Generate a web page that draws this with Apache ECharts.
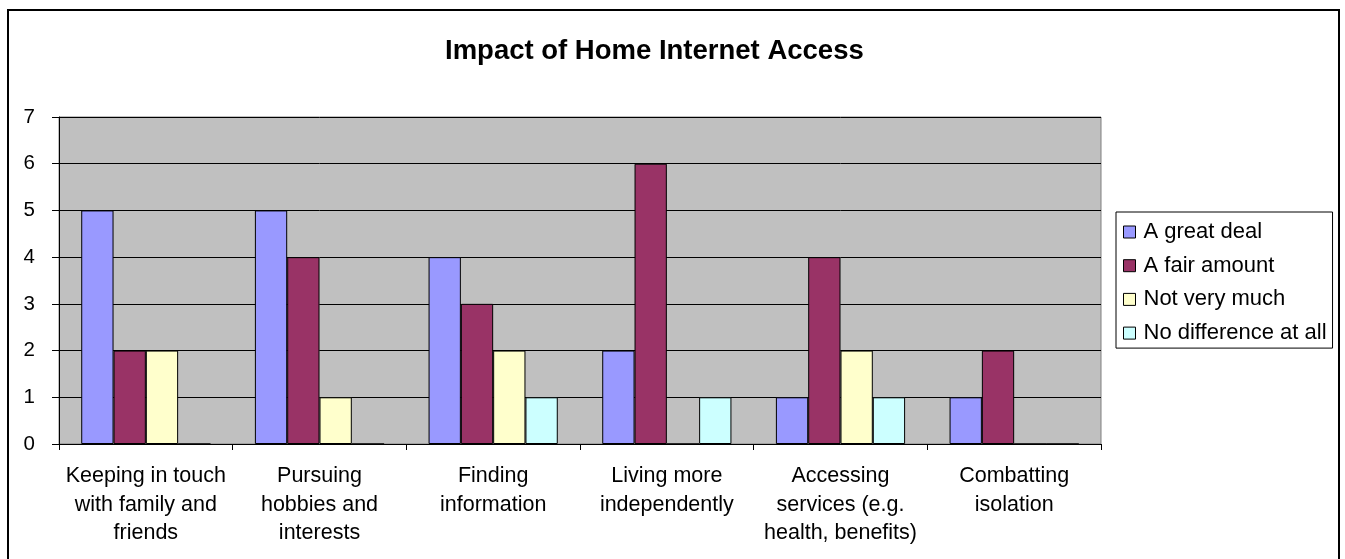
<!DOCTYPE html>
<html>
<head>
<meta charset="utf-8">
<script src="https://cdn.jsdelivr.net/npm/echarts@6/dist/echarts.min.js"></script>
<style>
html,body{margin:0;padding:0;background:#fff;}
#chart{width:1345px;height:559px;}
</style>
</head>
<body>
<div id="chart"></div>
<script>
const titleText = 'Impact of Home Internet Access';
const categories = [
  'Keeping in touch\nwith family and\nfriends',
  'Pursuing\nhobbies and\ninterests',
  'Finding\ninformation',
  'Living more\nindependently',
  'Accessing\nservices (e.g.\nhealth, benefits)',
  'Combatting\nisolation'
];
const seriesNames = ['A great deal', 'A fair amount', 'Not very much', 'No difference at all'];
const greatDeal    = [5, 5, 4, 2, 1, 1];
const fairAmount   = [2, 4, 3, 6, 4, 2];
const notVeryMuch  = [2, 1, 2, 0, 2, 0];
const noDifference = [0, 0, 1, 1, 1, 0];
const yTicks = [0, 1, 2, 3, 4, 5, 6, 7];

const colors = ['#9999FF', '#993366', '#FFFFCC', '#CCFFFF'];
const seriesData = [greatDeal, fairAmount, notVeryMuch, noDifference];
const FONT = 'Arial, "Liberation Sans", sans-serif';

const chart = echarts.init(document.getElementById('chart'), null, {renderer: 'canvas'});
chart.setOption({
  animation: false,
  backgroundColor: '#ffffff',
  title: {
    text: titleText,
    left: 445,
    top: 37,
    padding: 0,
    textStyle: {fontFamily: FONT, fontSize: 27.5, fontWeight: 'bold', color: '#000'}
  },
  graphic: [{
    type: 'rect',
    shape: {x: 8, y: 10, width: 1331, height: 600},
    style: {fill: 'none', stroke: '#000', lineWidth: 2},
    silent: true,
    z: 100
  }],
  legend: {
    orient: 'vertical',
    left: 1116,
    top: 212,
    padding: [9, 6, 4, 7],
    itemWidth: 12,
    itemHeight: 12,
    itemGap: 11.7,
    borderColor: '#000',
    borderWidth: 1,
    backgroundColor: '#fff',
    icon: 'rect',
    itemStyle: {borderColor: '#000', borderWidth: 1},
    textStyle: {fontFamily: FONT, fontSize: 22, color: '#000', padding: [0, 0, 0, 3]},
    data: seriesNames
  },
  grid: {
    left: 59, top: 117, width: 1042, height: 327,
    show: true,
    backgroundColor: '#C0C0C0',
    borderColor: '#808080',
    borderWidth: 1,
    containLabel: false
  },
  xAxis: {
    type: 'category',
    data: categories,
    axisLine: {show: true, lineStyle: {color: '#000', width: 1}},
    axisTick: {show: true, length: 6, lineStyle: {color: '#000'}},
    axisLabel: {
      fontFamily: FONT, fontSize: 21.5, color: '#000', lineHeight: 28.5,
      margin: 18, interval: 0, align: 'center'
    },
    splitLine: {show: false}
  },
  yAxis: {
    type: 'value',
    min: 0, max: 7, interval: 1,
    axisLine: {show: true, lineStyle: {color: '#000', width: 1}},
    axisTick: {show: true, length: 7, lineStyle: {color: '#000'}},
    axisLabel: {
      fontFamily: FONT, fontSize: 20.5, color: '#000', margin: 24,
      formatter: function (v) { return yTicks.indexOf(v) >= 0 ? String(v) : ''; }
    },
    splitLine: {show: true, lineStyle: {color: '#000', width: 1}}
  },
  series: seriesNames.map(function (name, i) {
    return {
      name: name,
      type: 'bar',
      data: seriesData[i],
      barGap: '0%',
      barCategoryGap: '25.6%',
      itemStyle: {color: colors[i], borderColor: '#000', borderWidth: 1}
    };
  })
});
</script>
</body>
</html>
